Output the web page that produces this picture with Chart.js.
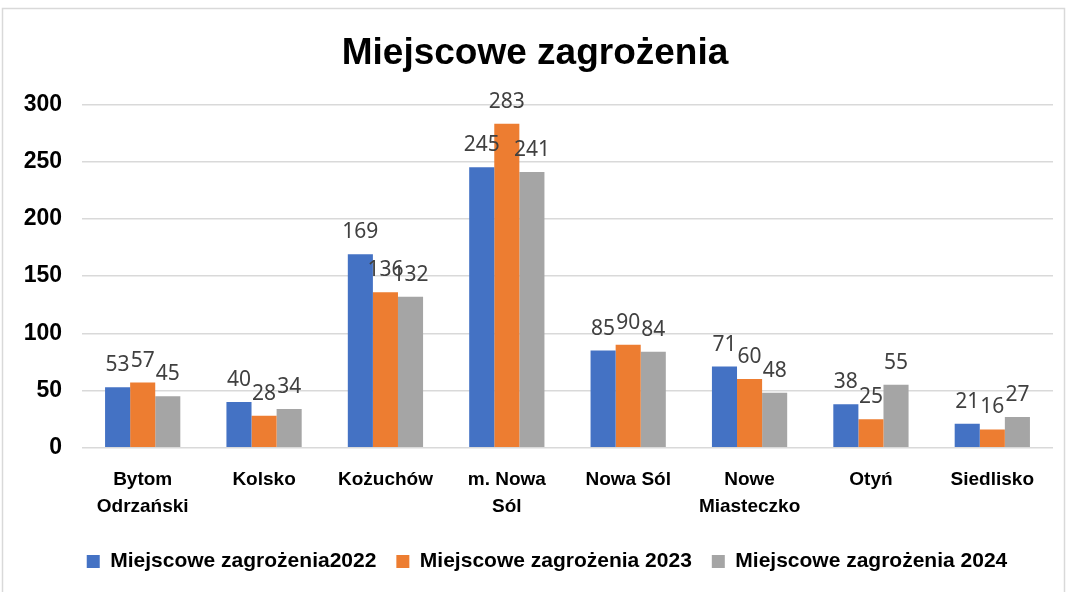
<!DOCTYPE html>
<html><head><meta charset="utf-8">
<script src="https://cdn.jsdelivr.net/npm/chart.js@4/dist/chart.umd.min.js"></script>
<style>html,body{margin:0;padding:0;background:#fff}#wrap{position:relative;width:1070px;height:592px}</style>
</head><body><div id="wrap"><canvas id="c" width="1070" height="592"></canvas></div>
<script>
const categories = [["Bytom","Odrzański"],"Kolsko","Kożuchów",["m. Nowa","Sól"],"Nowa Sól",["Nowe","Miasteczko"],"Otyń","Siedlisko"];
const series2022 = [53,40,169,245,85,71,38,21];
const series2023 = [57,28,136,283,90,60,25,16];
const series2024 = [45,34,132,241,84,48,55,27];
const seriesNames = ["Miejscowe zagrożenia2022","Miejscowe zagrożenia 2023","Miejscowe zagrożenia 2024"];
const colors = ["#4472c4","#ed7d31","#a5a5a5"];

const labelPlugin = {
  id:'vals',
  afterDatasetsDraw(chart){
    const ctx = chart.ctx;
    ctx.save();
    ctx.font = '21px "Noto Sans", "Open Sans", sans-serif';
    ctx.fillStyle = '#404040';
    ctx.textAlign = 'center';
    ctx.textBaseline = 'alphabetic';
    chart.data.datasets.forEach((ds,i)=>{
      chart.getDatasetMeta(i).data.forEach((bar,j)=>{
        ctx.fillText(String(ds.data[j]), bar.x, bar.y - 16);
      });
    });
    ctx.restore();
  }
};
const framePlugin = {
  id:'frame',
  beforeDraw(chart){
    const ctx = chart.ctx;
    ctx.save();
    ctx.fillStyle='#fff';ctx.fillRect(0,0,chart.width,chart.height);
    ctx.strokeStyle='#d9d9d9';ctx.lineWidth=1.5;
    ctx.strokeRect(2.5,8.5,1062,590);
    ctx.restore();
  }
};

const chart = new Chart(document.getElementById('c'),{
  type:'bar',
  data:{
    labels:categories,
    datasets:[0,1,2].map(i=>({
      label:seriesNames[i],
      data:[series2022,series2023,series2024][i],
      backgroundColor:colors[i],
      borderWidth:0,
      categoryPercentage:0.62,
      barPercentage:1
    }))
  },
  options:{
    responsive:false,
    animation:false,
    layout:{padding:{left:17,right:17,top:32,bottom:10}},
    plugins:{
      title:{display:true,text:'Miejscowe zagrożenia',color:'#000',
        font:{family:'"Liberation Sans", Arial, sans-serif',size:37,weight:'bold'},padding:{top:0,bottom:28}},
      legend:{position:'bottom',labels:{color:'#000',boxWidth:13,boxHeight:13,padding:20,
        font:{family:'"Liberation Sans", Arial, sans-serif',size:21,weight:'bold'}}},
      tooltip:{enabled:false}
    },
    scales:{
      x:{grid:{display:false},border:{display:false},
        ticks:{color:'#000',padding:11,maxRotation:0,autoSkip:false,
          font:{family:'"Liberation Sans", Arial, sans-serif',size:19,weight:'bold',lineHeight:1.4}}},
      y:{min:0,max:300,grid:{color:'#d9d9d9',lineWidth:1.5,drawTicks:false},border:{display:false},
        afterFit(s){s.width=65;},
        ticks:{stepSize:50,color:'#000',padding:20,
          font:{family:'"Liberation Sans", Arial, sans-serif',size:23,weight:'bold'}}}
    }
  },
  plugins:[labelPlugin,framePlugin]
});
// shift the legend slightly right, as in the reference
const origDraw = chart.legend.draw;
chart.legend.draw = function(){
  const ctx = this.ctx; ctx.save(); ctx.translate(12,0); origDraw.apply(this, arguments); ctx.restore();
};
chart.draw();
</script></body></html>
